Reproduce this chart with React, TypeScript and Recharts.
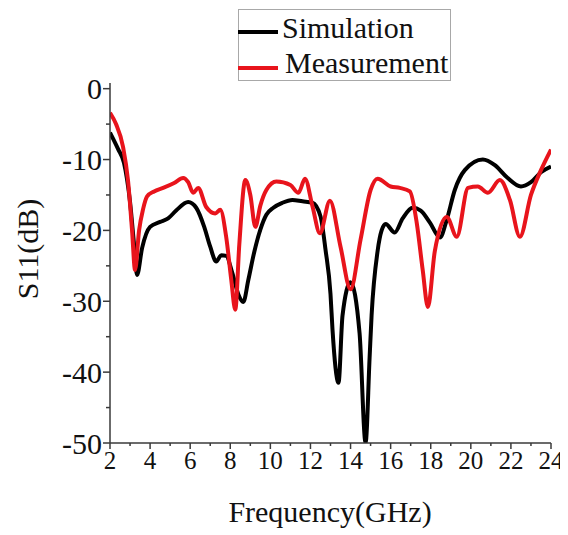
import React from 'react';
import { LineChart, Line, XAxis, YAxis, Legend } from 'recharts';

// Frequency (GHz) / S11 (dB) samples for the simulated response
const simFreq = [2.0, 2.4, 2.7, 3.0, 3.2, 3.35, 3.6, 4.0, 4.5, 4.9, 5.3, 5.9, 6.3, 6.7, 7.0, 7.3, 7.55, 7.8, 8.1, 8.4, 8.65, 8.9, 9.2, 9.5, 9.8, 10.15, 10.6, 11.1, 11.6, 12.1, 12.5, 12.75, 13.0, 13.1, 13.4, 13.6, 14.0, 14.45, 14.75, 14.95, 15.05, 15.35, 15.55, 15.75, 16.2, 16.6, 17.1, 17.5, 17.96, 18.46, 18.8, 19.2, 19.7, 20.6, 21.2, 21.8, 22.5, 23.0, 23.5, 24.0];
const simS11 = [-6.2, -8.5, -10.5, -16, -22, -26.3, -22.5, -19.5, -18.8, -18.3, -17.2, -16.0, -16.8, -19.5, -22.3, -24.4, -23.5, -23.6, -26, -29, -30.1, -27, -23, -19.9, -17.8, -16.8, -16.1, -15.7, -15.9, -16.1, -18, -22.7, -29, -34, -41.5, -32, -27.3, -34.5, -50, -38, -32, -22.9, -20, -19.1, -20.3, -18.3, -16.8, -17.2, -18.9, -21, -18.5, -14.3, -11.5, -10.0, -10.8, -12.5, -13.8, -13.2, -11.8, -11.0];

// Frequency (GHz) / S11 (dB) samples for the measured response
const measFreq = [2.0, 2.3, 2.65, 2.9, 3.1, 3.25, 3.45, 3.65, 3.85, 4.2, 4.65, 5.2, 5.65, 5.9, 6.15, 6.4, 6.8, 7.25, 7.5, 7.8, 8.05, 8.25, 8.45, 8.75, 9.0, 9.25, 9.5, 9.8, 10.3, 11.0, 11.4, 11.73, 12.1, 12.47, 12.97, 13.5, 14.0, 14.5, 15.0, 15.35, 16.0, 16.46, 16.96, 17.3, 17.6, 17.86, 18.2, 18.8, 19.3, 19.86, 20.35, 20.85, 21.45, 21.95, 22.45, 23.0, 23.5, 24.0];
const measS11 = [-3.4, -5, -8.2, -13, -20, -25.6, -20, -17, -15.2, -14.5, -14.0, -13.3, -12.6, -13.2, -14.7, -14.0, -16.7, -17.6, -17.1, -21, -27, -31.2, -22, -12.9, -15, -19.5, -16.5, -14.3, -13.1, -13.6, -14.7, -12.7, -16.6, -20.4, -15.8, -22.3, -28.3, -21.3, -14.3, -12.7, -13.8, -14.0, -14.5, -18.9, -25.6, -30.8, -23, -18.1, -20.9, -14, -13.8, -14.7, -12.9, -15.7, -20.9, -15, -11.5, -8.6];

const seriesNames = ['Simulation', 'Measurement'];
const xTicks = [2, 3, 4, 5, 6, 7, 8, 9, 10, 11, 12, 13, 14, 15, 16, 17, 18, 19, 20, 21, 22, 23, 24];
const yTicks = [0, -5, -10, -15, -20, -25, -30, -35, -40, -45, -50];

const simData = simFreq.map((f, i) => ({ f, s11: simS11[i] }));
const measData = measFreq.map((f, i) => ({ f, s11: measS11[i] }));

const FONT = '"Liberation Serif", "Times New Roman", serif';
const AXIS = '#3a3a3a';

const XTick = (props: any) => {
  const { x, y, payload } = props;
  const major = payload.value % 2 === 0;
  return (
    <g>
      <line x1={x} y1={y} x2={x} y2={y + (major ? 6 : 3)} stroke={AXIS} strokeWidth={1.5} />
      {major && (
        <text x={x} y={y + 26} textAnchor="middle" fontFamily={FONT} fontSize={25} fill="#111">
          {payload.value}
        </text>
      )}
    </g>
  );
};

const YTick = (props: any) => {
  const { x, y, payload } = props;
  const major = payload.value % 10 === 0;
  return (
    <g>
      <line x1={x} y1={y} x2={x - (major ? 7 : 4)} y2={y} stroke={AXIS} strokeWidth={1.5} />
      {major && (
        <text x={x - 8} y={y} dy="0.35em" textAnchor="end" fontFamily={FONT} fontSize={30} fill="#111">
          {payload.value}
        </text>
      )}
    </g>
  );
};

const LegendBox = (props: any) => {
  const items = [...(props.payload || [])].sort(
    (a: any, b: any) => seriesNames.indexOf(a.value) - seriesNames.indexOf(b.value)
  );
  return (
    <svg width={214} height={73} style={{ display: 'block' }}>
      <rect x={0.5} y={0.5} width={212} height={71} fill="#fff" stroke="#a8a8a8" strokeWidth={1} />
      {items.map((it: any, i: number) => (
        <g key={it.value}>
          <line x1={0} y1={23 + i * 36} x2={40} y2={23 + i * 36} stroke={it.color} strokeWidth={4} />
          <text x={44 + i * 3} y={29 + i * 35} fontFamily={FONT} fontSize={30} fill="#111">
            {it.value}
          </text>
        </g>
      ))}
    </svg>
  );
};

export default function App() {
  return (
    <LineChart width={560} height={527} margin={{ top: 75, right: 17, left: 0, bottom: 0 }}>
      <XAxis
        dataKey="f"
        type="number"
        domain={[2, 24]}
        ticks={xTicks}
        interval={0}
        tickSize={0}
        tickMargin={0}
        tickLine={false}
        tick={<XTick />}
        height={92}
        axisLine={{ stroke: AXIS, strokeWidth: 1.5 }}
        allowDataOverflow
        label={{
          content: () => (
            <text x={322} y={514} textAnchor="middle" fontFamily={FONT} fontSize={30} fill="#111">
              Frequency(GHz)
            </text>
          ),
        }}
      />
      <XAxis
        xAxisId="top"
        orientation="top"
        type="number"
        domain={[2, 24]}
        height={0}
        tick={false}
        tickLine={false}
        axisLine={{ stroke: '#555', strokeWidth: 1.5 }}
      />
      <YAxis
        type="number"
        domain={[-50, 0.8]}
        ticks={yTicks}
        interval={0}
        tickSize={0}
        tickMargin={0}
        tickLine={false}
        tick={<YTick />}
        width={102}
        axisLine={{ stroke: AXIS, strokeWidth: 1.5 }}
        allowDataOverflow
        label={{
          content: () => (
            <text
              x={19}
              y={241}
              transform="rotate(-90 19 241)"
              textAnchor="middle"
              dominantBaseline="central"
              fontFamily={FONT}
              fontSize={30}
              fill="#111"
            >
              S11(dB)
            </text>
          ),
        }}
      />
      <YAxis
        yAxisId="right"
        orientation="right"
        type="number"
        domain={[-50, 0.8]}
        width={0}
        tick={false}
        tickLine={false}
        axisLine={{ stroke: '#555', strokeWidth: 1.5 }}
      />
      <Legend
        layout="vertical"
        align="center"
        verticalAlign="middle"
        content={<LegendBox />}
        wrapperStyle={{ left: 230, top: 1, width: 214, height: 73 }}
      />
      <Line
        name="Simulation"
        data={simData}
        dataKey="s11"
        type="monotone"
        stroke="#000"
        strokeWidth={4}
        dot={false}
        isAnimationActive={false}
      />
      <Line
        name="Measurement"
        data={measData}
        dataKey="s11"
        type="monotone"
        stroke="#e8141c"
        strokeWidth={4}
        dot={false}
        isAnimationActive={false}
      />
    </LineChart>
  );
}
